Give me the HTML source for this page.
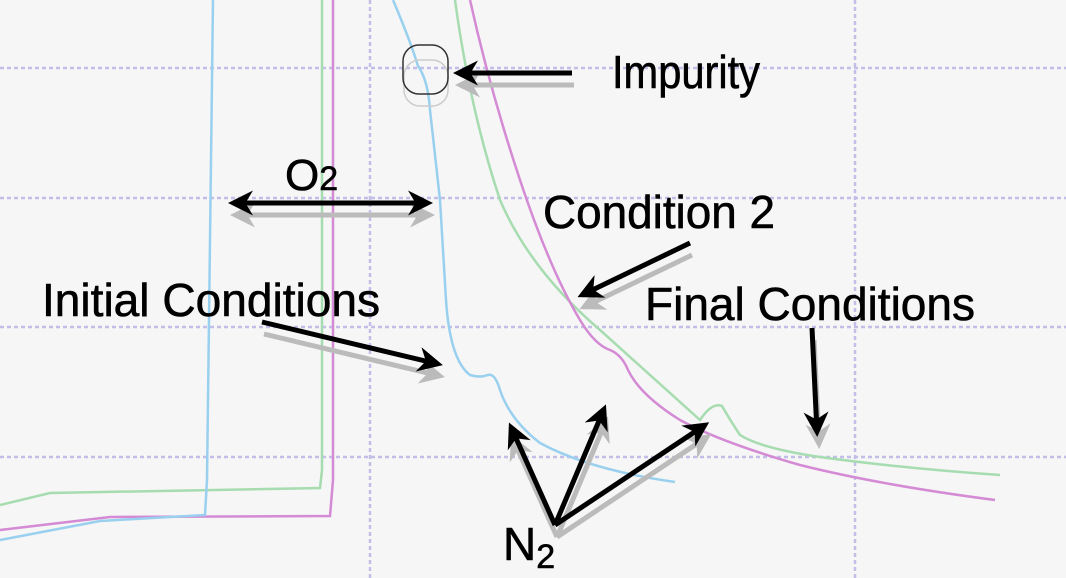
<!DOCTYPE html>
<html><head><meta charset="utf-8"><style>
html,body{margin:0;padding:0;background:#f5f6f5;}
svg{display:block;}
text{font-family:"Liberation Sans",sans-serif;fill:#000;stroke:#000;stroke-width:0.6;}
</style></head><body>
<svg width="1066" height="578" viewBox="0 0 1066 578" xmlns="http://www.w3.org/2000/svg">
<rect width="1066" height="578" fill="#f5f6f5"/>
<g stroke="#c2bee8" stroke-width="2.5" stroke-dasharray="4,3">
<line x1="0" y1="68" x2="1066" y2="68"/>
<line x1="0" y1="198" x2="1066" y2="198"/>
<line x1="0" y1="327" x2="1066" y2="327"/>
<line x1="0" y1="457" x2="1066" y2="457"/>
<line x1="370" y1="0" x2="370" y2="578"/>
<line x1="855" y1="0" x2="855" y2="578"/>
</g>
<g fill="none" stroke-width="2.5">
<path d="M0,505 L50,493 L320,488 L322,470 L322,0" stroke="#a6dcb0"/>
<path d="M0,530 L110,517 L330,516 L333,480 L333,0" stroke="#d48ad4"/>
<path d="M0,540 L100,521 L205,515 L207,480 L213,0" stroke="#9ad0ef"/>
<path d="M393,0 Q410,40 418,66 Q428,80 430,110 L440,200 L446,300 Q450,360 470,375 Q480,378 488,375 Q495,373 500,390 Q510,420 540,443 Q590,470 675,482" stroke="#9ad0ef"/>
<path d="M455,0 Q470,110 500,200 Q530,270 600,330 Q650,375 700,420 Q712,402 722,406 Q730,420 740,435 Q760,448 820,457 Q900,468 1000,475" stroke="#a6dcb0"/>
<path d="M470,0 Q490,90 520,180 Q550,270 580,320 Q595,345 610,350 Q622,355 628,370 Q640,395 680,420 Q720,442 800,465 Q880,485 995,500" stroke="#d48ad4"/>
</g>
<rect x="404" y="60" width="44" height="46" rx="16" fill="none" stroke="#ccc" stroke-width="1.5"/>
<rect x="403" y="45" width="45" height="49" rx="16" fill="none" stroke="#333" stroke-width="1.5"/>
<defs>
<marker id="ab" viewBox="0 0 10 10" refX="8" refY="5" markerWidth="5" markerHeight="5" orient="auto-start-reverse"><path d="M0,0 L10,5 L0,10 L3,5 Z" fill="#000"/></marker>
<marker id="ag" viewBox="0 0 10 10" refX="8" refY="5" markerWidth="5" markerHeight="5" orient="auto-start-reverse"><path d="M0,0 L10,5 L0,10 L3,5 Z" fill="#bbb"/></marker>
</defs>
<g stroke="#bbb" stroke-width="5" fill="none" marker-end="url(#ag)" transform="translate(2,12)">
<line x1="572" y1="73" x2="458" y2="73"/>
<line x1="233" y1="203" x2="428" y2="203" marker-start="url(#ag)"/>
<line x1="690" y1="243" x2="582" y2="295"/>
<line x1="262" y1="322" x2="438" y2="364"/>
<line x1="812" y1="328" x2="817" y2="432"/>
<line x1="555" y1="525" x2="511" y2="427"/>
<line x1="555" y1="525" x2="604" y2="409"/>
<line x1="555" y1="525" x2="705" y2="425"/>
</g>
<g stroke="#000" stroke-width="5" fill="none" marker-end="url(#ab)">
<line x1="572" y1="73" x2="458" y2="73"/>
<line x1="233" y1="203" x2="428" y2="203" marker-start="url(#ab)"/>
<line x1="690" y1="243" x2="582" y2="295"/>
<line x1="262" y1="322" x2="438" y2="364"/>
<line x1="812" y1="328" x2="817" y2="432"/>
<line x1="555" y1="525" x2="511" y2="427"/>
<line x1="555" y1="525" x2="604" y2="409"/>
<line x1="555" y1="525" x2="705" y2="425"/>
</g>
<text x="612" y="88" font-size="46" textLength="148" lengthAdjust="spacingAndGlyphs">Impurity</text>
<text x="285" y="190" font-size="44">O<tspan font-size="34">2</tspan></text>
<text x="543" y="228" font-size="46" textLength="232" lengthAdjust="spacingAndGlyphs">Condition 2</text>
<text x="42" y="316" font-size="46" textLength="338" lengthAdjust="spacingAndGlyphs">Initial Conditions</text>
<text x="645" y="320" font-size="46" textLength="330" lengthAdjust="spacingAndGlyphs">Final Conditions</text>
<text x="503" y="560" font-size="46">N<tspan font-size="34" dy="8">2</tspan></text>
</svg>
</body></html>
